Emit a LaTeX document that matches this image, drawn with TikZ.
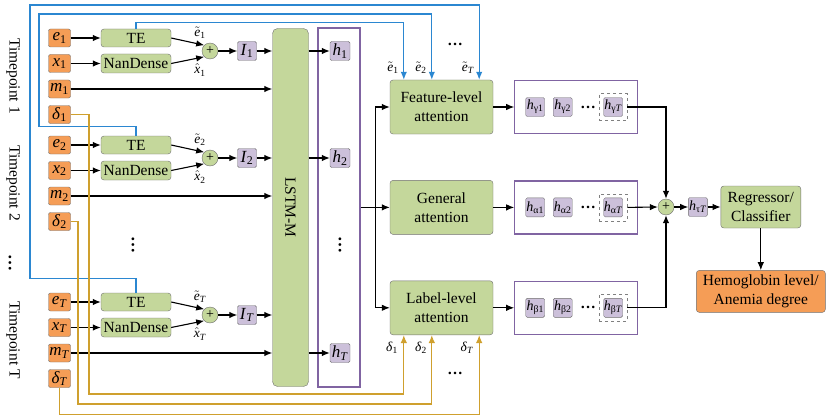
\documentclass[tikz,border=0pt]{standalone}
\usepackage{amsmath}
\usepackage{fontspec}
\setmainfont{Liberation Serif}
\usepackage{xcolor}
\usepackage{tikz}
\usetikzlibrary{arrows.meta,positioning,calc}

\definecolor{inorange}{HTML}{F59D56}
\definecolor{lgreen}{HTML}{C4D79B}
\definecolor{lpurple}{HTML}{CCC0DA}
\definecolor{fpurple}{HTML}{8064A2}
\definecolor{eblue}{HTML}{2B87D1}
\definecolor{dgold}{HTML}{CFA02E}
\definecolor{bordgray}{HTML}{6F6F6F}

\newcommand{\vr}[2]{\textit{#1}\textsubscript{#2}}
\newcommand{\et}[1]{\vr{$\tilde{\textit{e}}$}{#1}}
\newcommand{\xh}[1]{\vr{$\hat{\textit{x}}$}{#1}}

\begin{document}
\begin{tikzpicture}[
  x=1pt, y=-1pt,
  font=\fontsize{15.5}{19}\selectfont,
  inp/.style={draw=bordgray, fill=inorange, rounded corners=2pt, inner sep=0pt, minimum width=22pt, minimum height=18pt, font=\fontsize{17}{17}\selectfont},
  gbox/.style={draw=bordgray, fill=lgreen, rounded corners=3pt, align=center, inner sep=1pt},
  hbox/.style={draw=bordgray, fill=lpurple, rounded corners=1.5pt, inner sep=0pt, minimum width=20pt, minimum height=19pt, font=\fontsize{17}{17}\selectfont},
  hsm/.style={hbox, minimum width=19pt, font=\fontsize{14}{14}\selectfont},
  hdash/.style={draw=gray, dashed, minimum width=28pt, minimum height=27pt},
  frm/.style={draw=fpurple, line width=1.2pt, inner sep=0pt},
  sumnode/.style={circle, draw=bordgray, fill=lgreen, minimum size=16pt, inner sep=0pt, font=\fontsize{14}{14}\selectfont},
  vdot/.style={rotate=-90, inner sep=0pt, font=\fontsize{17}{17}\selectfont\bfseries},
  arr/.style={-{Latex[length=8pt,width=6.5pt]}, line width=1.1pt},
  bl/.style={arr, draw=eblue, line width=1.3pt},
  gd/.style={arr, draw=dgold, line width=1.3pt},
  sml/.style={font=\fontsize{13.5}{13.5}\selectfont, inner sep=0pt}
]
  \useasboundingbox (0,0) rectangle (830,420);

  \node[gbox, minimum width=36pt, minimum height=358pt, rounded corners=5pt] (lstm) at (290.5,207.5) {};
  \node[rotate=-90] at (lstm) {LSTM-M};
  \node[frm, minimum width=42pt, minimum height=359pt] (hfr) at (339,207.5) {};

  \foreach \k/\s/\yy/\tl in {1/1/38/1, 2/2/145/2, T/{\textit{T}}/302/T}{
    \node[rotate=-90] (tp\k) at (13,\yy+38) {Timepoint \tl};
    \node[inp] (e\k) at (59.5,\yy) {\vr{e}{\s}};
    \node[inp] (x\k) at (59.5,\yy+25.5) {\vr{x}{\s}};
    \node[inp] (m\k) at (59.5,\yy+51) {\vr{m}{\s}};
    \node[inp] (d\k) at (59.5,\yy+76.5) {\vr{δ}{\s}};
    \node[gbox, minimum width=70pt, minimum height=18pt] (te\k) at (136,\yy) {TE};
    \node[gbox, minimum width=70pt, minimum height=19pt] (nd\k) at (136,\yy+25.5) {NanDense};
    \node[sumnode] (s\k) at (210,\yy+13) {+};
    \node[hbox, minimum width=19pt] (i\k) at (247,\yy+13) {\vr{I}{\s}};
    \node[sml] at (200,\yy-5) {\et{\s}};
    \node[sml] at (200,\yy+32) {\xh{\s}};
    \draw[arr] (e\k) -- (te\k);
    \draw[arr] (x\k) -- (nd\k);
    \draw[arr] (te\k.east) -- (s\k.north west);
    \draw[arr] (nd\k.east) -- (s\k.south west);
    \draw[arr] (s\k) -- (i\k);
    \draw[arr] (i\k) -- (i\k -| lstm.west);
    \draw[arr] (m\k) -- (m\k -| lstm.west);
  }
  \node[vdot] at (10,263) {…};
  \node[vdot] at (133,245) {…};

  \node[hbox] (h1) at (340,51) {\vr{h}{1}};
  \node[hbox] (h2) at (340,158) {\vr{h}{2}};
  \node[hbox] (hT) at (340,353) {\vr{h}{\textit{T}}};
  \node[vdot] at (340,245) {…};
  \draw[arr] (h1 -| lstm.east) -- (h1);
  \draw[arr] (h2 -| lstm.east) -- (h2);
  \draw[arr] (hT -| lstm.east) -- (hT);

  \node[gbox, minimum width=103pt, minimum height=54pt] (feat) at (441.5,107) {Feature-level\\attention};
  \node[gbox, minimum width=103pt, minimum height=54pt, below=46pt of feat] (gen) {General\\attention};
  \node[gbox, minimum width=103pt, minimum height=54pt, below=46pt of gen] (lab) {Label-level\\attention};

  \coordinate (sp) at ($(hfr.east |- gen)!0.5!(gen.west)$);
  \draw[arr] (hfr.east |- gen) -- (gen.west);
  \draw[arr] (sp) |- (feat.west);
  \draw[arr] (sp) |- (lab.west);

  \draw[bl] (te1.north) -- ++(0,-6) -| ($(feat.north west)+(14,0)$);
  \draw[bl] (te2.north) -- ++(0,-9) -| (39,14) -| ($(feat.north west)+(42,0)$);
  \draw[bl] (teT.north) -- ++(0,-14) -| (30,5) -| ($(feat.north east)+(-14,0)$);
  \node[sml] at (393,68) {\et{1}};
  \node[sml] at (421,68) {\et{2}};
  \node[sml] at (468,68) {\et{\textit{T}}};
  \node at (455,44) {\textbf{\dots}};

  \draw[gd] (d1.east) -| (89,394) -| ($(lab.south west)+(14,0)$);
  \draw[gd] (d2.east) -| (78,404) -| ($(lab.south west)+(42,0)$);
  \draw[gd] (dT.south) -- ++(0,27) -| ($(lab.south east)+(-14,0)$);
  \node[sml] at (392,348) {\vr{δ}{1}};
  \node[sml] at (421,348) {\vr{δ}{2}};
  \node[sml] at (467,348) {\vr{δ}{\textit{T}}};
  \node at (455,373) {\textbf{\dots}};

  \foreach \a/\g/\att in {g/γ/feat, a/α/gen, b/β/lab}{
    \node[frm, minimum width=123pt, minimum height=53pt, right=21pt of \att] (fr\a) {};
    \draw[arr] (\att) -- (fr\a);
    \node[hsm] (\a1) at ($(fr\a.west)+(21,0)$) {\vr{h}{\g1}};
    \node[hsm] (\a2) at ($(fr\a.west)+(48.5,0)$) {\vr{h}{\g2}};
    \node at ($(fr\a.west)+(74,0)$) {\textbf{\dots}};
    \node[hsm] (\a T) at ($(fr\a.west)+(99,0)$) {\vr{h}{\g\textit{T}}};
    \node[hdash] (\a Td) at (\a T) {};
  }

  \node[sumnode] (sum) at (666,207) {+};
  \draw[arr] (gTd.east) -| (sum.north);
  \draw[arr] (aTd.east) -- (sum.west);
  \draw[arr] (bTd.east) -| (sum.south);

  \node[hsm, right=14pt of sum] (htau) {\vr{h}{τ\textit{T}}};
  \node[gbox, minimum width=80pt, minimum height=42pt, right=13pt of htau] (reg) {Regressor/\\Classifier};
  \node[gbox, fill=inorange, minimum width=129pt, minimum height=42pt, below=42pt of reg] (hemo) {Hemoglobin level/\\Anemia degree};
  \draw[arr] (sum) -- (htau);
  \draw[arr] (htau) -- (reg);
  \draw[arr] (reg) -- (hemo);
\end{tikzpicture}
\end{document}
